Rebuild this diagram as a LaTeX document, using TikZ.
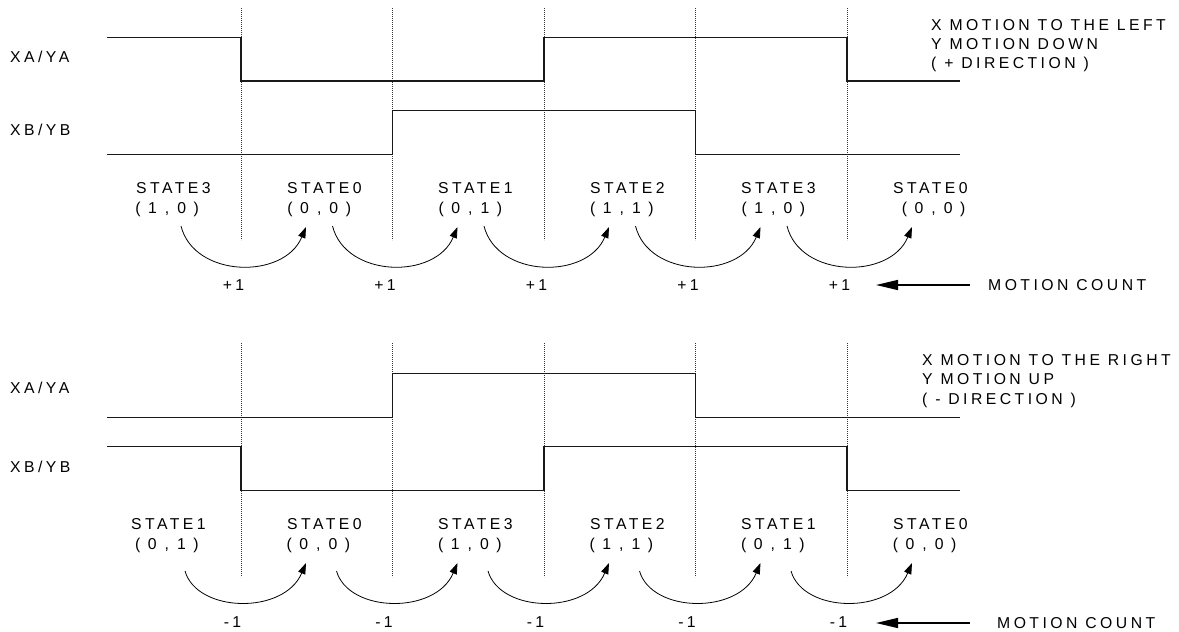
\documentclass[tikz,border=0pt]{standalone}
\usepackage{fontspec}
\setmainfont{Liberation Sans}[LetterSpace=22]
\usetikzlibrary{arrows.meta}
\newcommand{\pc}[1]{\makebox[14.6pt][c]{#1}}
\newcommand{\pv}[2]{\pc{(}\pc{#1}\pc{,}\pc{#2}\pc{)}}
\begin{document}
\begin{tikzpicture}[x=1pt,y=-1pt,
  lbl/.style={anchor=base west,inner sep=0pt,font=\fontsize{15.75}{19}\selectfont},
  cntlbl/.style={anchor=base,inner sep=0pt,font=\fontsize{15.75}{19}\selectfont},
  wave/.style={line width=1.1pt,line join=miter,black!90},
  gridline/.style={line width=0.6pt,dash pattern=on 0.8pt off 1.2pt,black!80},
  cnt/.style={-{Triangle[length=11pt,width=7.5pt]},line width=0.8pt},
  bigarrow/.style={-{Triangle[length=22pt,width=10pt]},line width=1.5pt}]
\useasboundingbox (0,0) rectangle (1179,632);

% signal labels
\node[lbl] (xa1) at (10,62.6) {XA/YA};
\node[lbl] (xb1) at (10,135.6) {XB/YB};
\node[lbl] (xa2) at (10,393.6) {XA/YA};
\node[lbl] (xb2) at (10,472.6) {XB/YB};

% dotted grid lines
\foreach \x in {241,392.5,544,695.5,847}{
  \draw[gridline] (\x,8) -- (\x,240);
  \draw[gridline] (\x,343) -- (\x,577);
}

% waveforms (top)
\draw[wave] (107,37.3) -- (241,37.3) -- (241,81) -- (544,81) -- (544,37.3) -- (847,37.3) -- (847,81) -- (960,81);
\draw[wave] (107,154.3) -- (392.5,154.3) -- (392.5,110.7) -- (695.5,110.7) -- (695.5,154.3) -- (960,154.3);
% waveforms (bottom)
\draw[wave] (107,417.7) -- (392.5,417.7) -- (392.5,373.7) -- (695.5,373.7) -- (695.5,417.7) -- (960,417.7);
\draw[wave] (107,446.7) -- (241,446.7) -- (241,490.7) -- (544,490.7) -- (544,446.7) -- (847,446.7) -- (847,490.7) -- (960,490.7);

% right-hand texts
\node[lbl] (t1) at (931,30.6) {X MOTION TO THE LEFT};
\node[lbl] (t2) at (931,49.6) {Y MOTION DOWN};
\node[lbl] (t3) at (931,68.6) {( + DIRECTION )};
\node[lbl] (b1) at (922,365.6) {X MOTION TO THE RIGHT};
\node[lbl] (b2) at (922,384.6) {Y MOTION UP};
\node[lbl] (b3) at (922,404.6) {( - DIRECTION )};

% state labels (top): STATE x / value-row x (centre of first bracket minus half a cell)
\foreach \i/\x/\p/\s/\a/\b in {1/136/130.4/3/1/0,2/287/282.5/0/0/0,3/438/433.7/1/0/1,4/590/585.2/2/1/1,5/741/736.7/3/1/0,6/893/896.9/0/0/0}{
  \node[lbl] (ts\i) at (\x,193.2) {STATE\s};
  \node[lbl] (tv\i) at (\p,213.2) {\pv{\a}{\b}};
}

% state labels (bottom)
\foreach \i/\x/\p/\s/\a/\b in {1/131/130.2/1/0/1,2/287/281.7/0/0/0,3/438/433.2/3/1/0,4/590/584.7/2/1/1,5/741/736.2/1/0/1,6/893/887.9/0/0/0}{
  \node[lbl] (bs\i) at (\x,529.6) {STATE\s};
  \node[lbl] (bv\i) at (\p,549.6) {\pv{\a}{\b}};
}

% transition arcs and counts
\foreach \k in {0,...,4}{
  \pgfmathsetmacro{\dx}{151.5*\k}
  \coordinate (ta\k) at (181+\dx,226);
  \coordinate (tb\k) at (306+\dx,227);
  \draw[cnt] (ta\k) .. controls (194+\dx,278) and (284+\dx,280) .. (tb\k);
  \node[cntlbl] (tc\k) at (233.5+\dx,290.6) {+1};
  \coordinate (ba\k) at (185+\dx,571);
  \coordinate (bb\k) at (306+\dx,563);
  \draw[cnt] (ba\k) .. controls (197+\dx,613) and (284+\dx,615) .. (bb\k);
  \node[cntlbl] (bc\k) at (232.5+\dx,627.6) {-1};
}

% motion count
\node[lbl] (mc1) at (988,290.6) {MOTION COUNT};
\coordinate (mc1t) at (970,285);
\coordinate (mc1h) at (876,285);
\draw[bigarrow] (mc1t) -- (mc1h);
\node[lbl] (mc2) at (997,628.6) {MOTION COUNT};
\coordinate (mc2t) at (970,623);
\coordinate (mc2h) at (876,623);
\draw[bigarrow] (mc2t) -- (mc2h);
\end{tikzpicture}
\end{document}
